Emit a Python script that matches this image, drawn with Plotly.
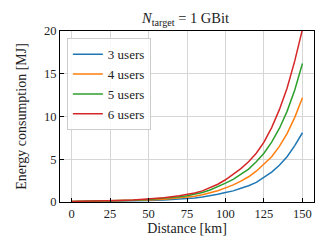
import plotly.graph_objects as go

distance_km = [0, 10, 20, 30, 40, 50, 60, 70, 75, 80, 85, 90, 95, 100, 105, 110, 115, 120, 125, 130, 135, 140, 145, 150]
energy_3_users = [0.04, 0.05, 0.07, 0.09, 0.12, 0.17, 0.24, 0.33, 0.40, 0.48, 0.58, 0.72, 0.90, 1.10, 1.30, 1.60, 1.90, 2.30, 2.85, 3.50, 4.30, 5.30, 6.60, 8.10]
energy_4_users = [0.05, 0.07, 0.09, 0.12, 0.16, 0.22, 0.32, 0.46, 0.56, 0.68, 0.85, 1.05, 1.32, 1.65, 2.00, 2.45, 2.95, 3.60, 4.40, 5.30, 6.50, 8.00, 9.90, 12.2]
energy_5_users = [0.06, 0.08, 0.11, 0.15, 0.21, 0.30, 0.42, 0.60, 0.74, 0.90, 1.12, 1.40, 1.76, 2.20, 2.65, 3.20, 3.85, 4.70, 5.70, 7.00, 8.60, 10.6, 13.1, 16.2]
energy_6_users = [0.07, 0.09, 0.12, 0.17, 0.24, 0.35, 0.50, 0.72, 0.87, 1.05, 1.30, 1.65, 2.08, 2.60, 3.20, 3.90, 4.70, 5.70, 7.00, 8.70, 10.8, 13.3, 16.5, 20.2]
series_names = ["3 users", "4 users", "5 users", "6 users"]
series_colors = ["#1f77b4", "#ff7f0e", "#2ca02c", "#d62728"]
x_ticks = [0, 25, 50, 75, 100, 125, 150]
y_ticks = [0, 5, 10, 15, 20]

FONT = "Liberation Serif"
# the page body has an 8px margin, so the figure is made 8px smaller and margins shifted
W, H = 320, 238

fig = go.Figure()
for name, vals, col in zip(series_names,
                           [energy_3_users, energy_4_users, energy_5_users, energy_6_users],
                           series_colors):
    fig.add_trace(go.Scatter(x=distance_km, y=vals, mode="lines", name=name,
                             line=dict(color=col, width=1.5)))

axis_common = dict(showline=True, linecolor="black", linewidth=1.2, mirror=True,
                   ticks="inside", ticklen=4, tickcolor="black", tickwidth=1.2,
                   showgrid=True, gridcolor="#d6d6d6", gridwidth=1.4, zeroline=False,
                   tickfont=dict(family=FONT, size=12.5, color="#222"))

fig.update_layout(
    width=W, height=H,
    margin=dict(l=49, r=14, t=23, b=38),
    paper_bgcolor="white", plot_bgcolor="white",
    font=dict(family=FONT, size=12, color="#222"),
    title=dict(text="<i>N</i><sub>target</sub> = 1 GBit", x=(49 + 306) / 2 / W, xanchor="center",
               y=1 - 10 / H, yanchor="middle", font=dict(family=FONT, size=14.5, color="#222")),
    xaxis=dict(range=[-7.5, 157.5], tickvals=x_ticks,
               title=dict(text="Distance [km]", standoff=3, font=dict(family=FONT, size=14)),
               **axis_common),
    yaxis=dict(range=[0, 20], tickvals=y_ticks,
               title=dict(text="Energy consumption [MJ]", standoff=14, font=dict(family=FONT, size=14)),
               **axis_common),
    legend=dict(x=0.027, y=0.958, xanchor="left", yanchor="top",
                bgcolor="rgba(255,255,255,0.85)", bordercolor="#cccccc", borderwidth=1,
                entrywidth=84, entrywidthmode="pixels",
                font=dict(family=FONT, size=13, color="#222"), tracegroupgap=0),
    showlegend=True,
)

fig.write_html("out.html")
